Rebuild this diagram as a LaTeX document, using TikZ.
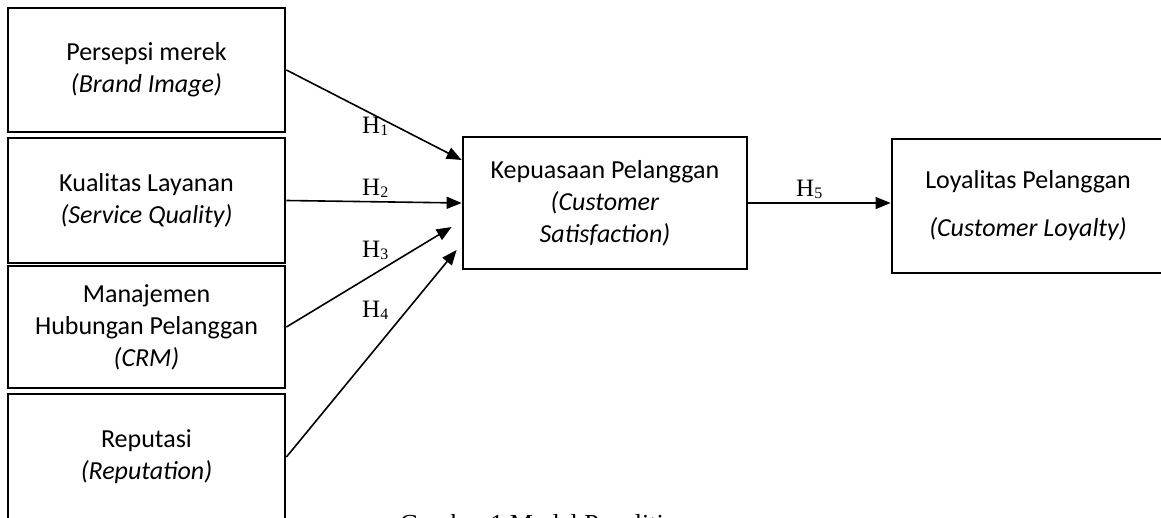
\documentclass[tikz,border=0pt]{standalone}
\usepackage{fontspec}
\setmainfont{Carlito}
\newfontfamily\tnr{Liberation Serif}
\usetikzlibrary{arrows.meta}
\newcommand{\hsub}[1]{H\raisebox{-1.5pt}{\fontsize{16}{16}\selectfont #1}}
\tikzset{
  box/.style={draw, line width=2.8pt, inner sep=0pt, align=center, font=\fontsize{26}{32}\selectfont},
  arr/.style={line width=1.6pt, -{Triangle[length=15pt,width=12pt]}},
  hlab/.style={font=\tnr\fontsize{25}{25}\selectfont, anchor=base west, inner sep=0pt},
}
\begin{document}
\begin{tikzpicture}[x=1pt,y=-1pt]
\useasboundingbox (0,0) rectangle (1161,518);
\node[box, minimum width=277pt, minimum height=124pt] (b1) at (146.5,70) {Persepsi merek\\\textit{(Brand Image)}};
\node[box, minimum width=277pt, minimum height=125pt] (b2) at (146.5,200.5) {Kualitas Layanan\\\textit{(Service Quality)}};
\node[box, minimum width=277pt, minimum height=122pt] (b3) at (146.5,327) {Manajemen\\Hubungan Pelanggan\\\textit{(CRM)}};
\node[box, minimum width=277pt, minimum height=126pt] (b4) at (146.5,457) {Reputasi\\\textit{(Reputation)}};
\node[box, minimum width=284pt, minimum height=132pt] (c) at (605,203) {Kepuasaan Pelanggan\\\textit{(Customer}\\\textit{Satisfaction)}};
\node[box, minimum width=272pt, minimum height=134pt] (r) at (1028,206) {Loyalitas Pelanggan\\[16pt]\textit{(Customer Loyalty)}};
\draw[arr] (b1.east) -- ([yshift=43pt]c.west);
\draw[arr] (b2.east) -- (c.west);
\draw[arr] (b3.east) -- ([xshift=-10pt,yshift=-24pt]c.west);
\draw[arr] (b4.east) -- ([xshift=-5pt,yshift=-47pt]c.west);
\draw[arr] (c.east) -- (c.east -| r.west);
\node[hlab] (h1) at (362,134) {\hsub{1}};
\node[hlab] (h2) at (362,196) {\hsub{2}};
\node[hlab] (h3) at (362,258) {\hsub{3}};
\node[hlab] (h4) at (362,318) {\hsub{4}};
\node[hlab] (h5) at (796,197) {\hsub{5}};
\node[font=\tnr\fontsize{26}{26}\selectfont, anchor=base west, inner sep=0pt] (cap) at (400,532) {Gambar 1 Model Penelitian};
\end{tikzpicture}
\end{document}
